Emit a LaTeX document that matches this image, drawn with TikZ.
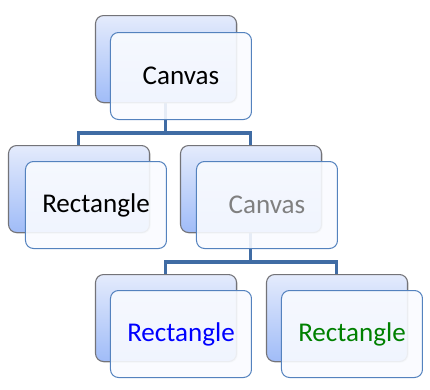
\documentclass[tikz,border=0pt]{standalone}
\usepackage{fontspec}
\setmainfont{Carlito}
\usetikzlibrary{shadows}
\definecolor{conn}{RGB}{64,108,164}
\definecolor{backtop}{RGB}{228,235,252}
\definecolor{backbot}{RGB}{160,188,248}
\definecolor{backline}{RGB}{115,115,120}
\definecolor{frontfill}{RGB}{249,251,255}
\definecolor{frontline}{RGB}{84,130,190}
\definecolor{txtgray}{RGB}{128,128,128}
\definecolor{txtblue}{RGB}{0,0,255}
\definecolor{txtgreen}{RGB}{0,128,0}
\begin{document}
\begin{tikzpicture}[x=0.75pt,y=-0.75pt,
  backbox/.style={rectangle, rounded corners=6pt, minimum width=105.75pt, minimum height=65.25pt,
    inner sep=0pt, anchor=north west, draw=backline, line width=0.8pt,
    top color=backtop, bottom color=backbot,
    drop shadow={opacity=0.35, shadow xshift=0.8pt, shadow yshift=-0.8pt}},
  frontbox/.style={rectangle, rounded corners=6pt, minimum width=105.75pt, minimum height=65.25pt,
    inner sep=0pt, anchor=north west, draw=frontline, line width=0.75pt,
    fill=frontfill, fill opacity=0.9, text opacity=1, font=\fontsize{20.3}{24}\selectfont},
  connector/.style={draw=conn, line width=2.5pt}]
\useasboundingbox (0,0) rectangle (430,390);
% junction coordinates
\coordinate (j1) at (0,133);
\coordinate (j2) at (0,262);
% back box positions
\path (95,15) coordinate (pb1);
\path (8,145) coordinate (pb2);
\path (180,145) coordinate (pb3);
\path (95,274) coordinate (pb4);
\path (266,274) coordinate (pb5);
% connector end points (back-box centres)
\path (pb1) ++(70.5,88) coordinate (b1s);
\path (pb2) ++(70.5,0) coordinate (b2n);
\path (pb3) ++(70.5,0) coordinate (b3n);
\path (pb3) ++(70.5,88) coordinate (b3s);
\path (pb4) ++(70.5,0) coordinate (b4n);
\path (pb5) ++(70.5,0) coordinate (b5n);
\draw[connector] (b1s) -- (b1s |- j1) -| (b2n);
\draw[connector] (b1s |- j1) -| (b3n);
\draw[connector] (b3s) -- (b3s |- j2) -| (b4n);
\draw[connector] (b3s |- j2) -| (b5n);
% boxes
\node[backbox] (b1) at (pb1) {};
\node[frontbox] (f1) at (110,32) {Canvas};
\node[backbox] (b2) at (pb2) {};
\node[frontbox] (f2) at (25,161) {Rectangle};
\node[backbox] (b3) at (pb3) {};
\node[frontbox, text=txtgray] (f3) at (196,161) {Canvas};
\node[backbox] (b4) at (pb4) {};
\node[frontbox, text=txtblue] (f4) at (110,290) {Rectangle};
\node[backbox] (b5) at (pb5) {};
\node[frontbox, text=txtgreen] (f5) at (281,290) {Rectangle};
\end{tikzpicture}
\end{document}
